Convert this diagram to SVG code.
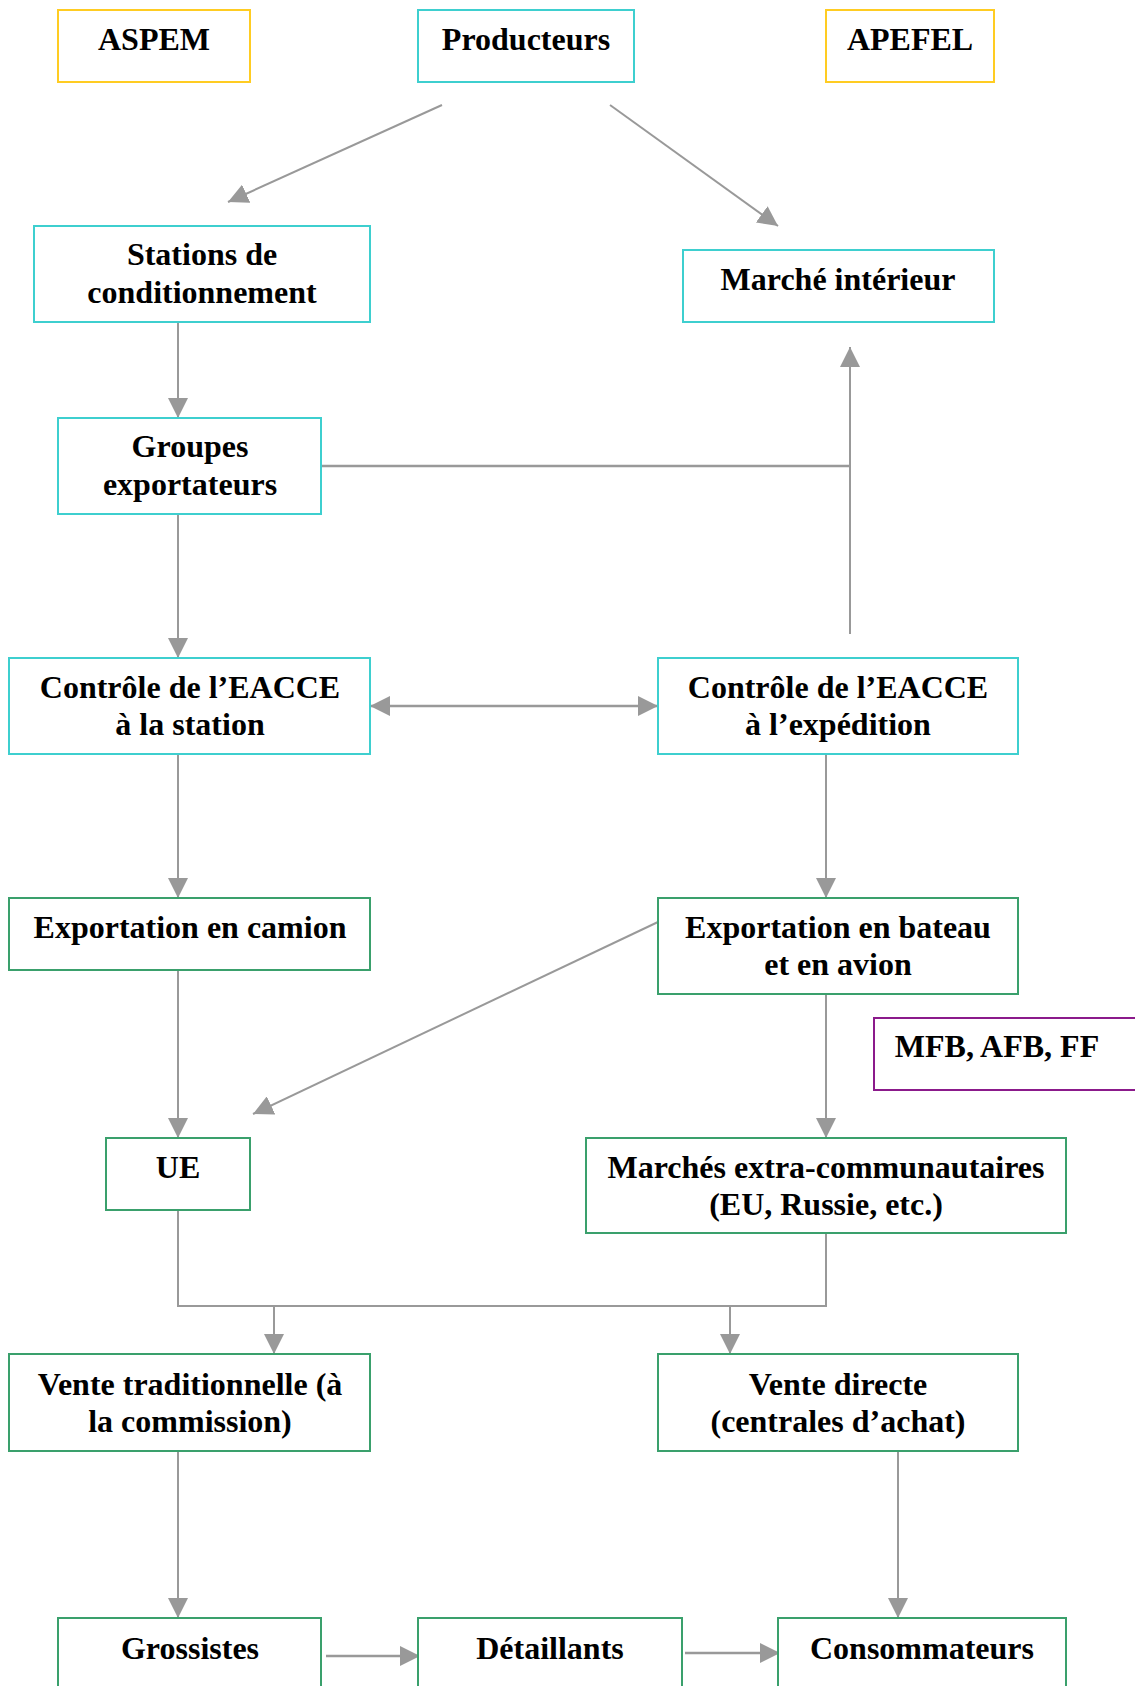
<svg xmlns="http://www.w3.org/2000/svg" width="1135" height="1686" viewBox="0 0 1135 1686">
<style>
.bx{fill:#fff;stroke-width:2}
.cy{stroke:#3ecfcf}
.ye{stroke:#ffcc22}
.gr{stroke:#3aa06c}
.pu{stroke:#8b1a8b}
text{font-family:"Liberation Serif","Times New Roman",serif;font-weight:bold;font-size:32px;fill:#000;text-anchor:middle}
.c{fill:none;stroke:#999;stroke-width:2}
.t{stroke-width:2.4}
</style>
<defs>
<marker id="ah" markerUnits="userSpaceOnUse" markerWidth="20" markerHeight="20" refX="20" refY="10" orient="auto-start-reverse" viewBox="0 0 20 20">
<path d="M0,0 L20,10 L0,20 z" fill="#999"/>
</marker>
</defs>
<rect width="1135" height="1686" fill="#fff"/>
<g id="connectors">
<line class="c" x1="442" y1="105" x2="228" y2="202" marker-end="url(#ah)"/>
<line class="c" x1="610" y1="105" x2="778" y2="226" marker-end="url(#ah)"/>
<line class="c" x1="178" y1="322" x2="178" y2="418" marker-end="url(#ah)"/>
<line class="c t" x1="321" y1="466" x2="850" y2="466"/>
<line class="c" x1="850" y1="634" x2="850" y2="347" marker-end="url(#ah)"/>
<line class="c" x1="178" y1="514" x2="178" y2="658" marker-end="url(#ah)"/>
<line class="c t" x1="370" y1="706" x2="658" y2="706" marker-start="url(#ah)" marker-end="url(#ah)"/>
<line class="c" x1="178" y1="754" x2="178" y2="898" marker-end="url(#ah)"/>
<line class="c" x1="826" y1="754" x2="826" y2="898" marker-end="url(#ah)"/>
<line class="c" x1="658" y1="922" x2="253" y2="1114" marker-end="url(#ah)"/>
<line class="c" x1="178" y1="970" x2="178" y2="1138" marker-end="url(#ah)"/>
<line class="c" x1="826" y1="994" x2="826" y2="1138" marker-end="url(#ah)"/>
<polyline class="c" points="178,1210 178,1306 826,1306 826,1233"/>
<line class="c" x1="274" y1="1306" x2="274" y2="1354" marker-end="url(#ah)"/>
<line class="c" x1="730" y1="1306" x2="730" y2="1354" marker-end="url(#ah)"/>
<line class="c" x1="178" y1="1451" x2="178" y2="1618" marker-end="url(#ah)"/>
<line class="c" x1="898" y1="1451" x2="898" y2="1618" marker-end="url(#ah)"/>
<line class="c t" x1="326" y1="1656" x2="420" y2="1656" marker-end="url(#ah)"/>
<line class="c t" x1="685" y1="1653" x2="780" y2="1653" marker-end="url(#ah)"/>
</g>
<g id="aspem"><rect class="bx ye" x="58" y="10" width="192" height="72"/><text x="154" y="50">ASPEM</text></g>
<g id="producteurs"><rect class="bx cy" x="418" y="10" width="216" height="72"/><text x="526" y="50">Producteurs</text></g>
<g id="apefel"><rect class="bx ye" x="826" y="10" width="168" height="72"/><text x="910" y="50">APEFEL</text></g>
<g id="stations"><rect class="bx cy" x="34" y="226" width="336" height="96"/><text x="202" y="265">Stations de</text><text x="202" y="303">conditionnement</text></g>
<g id="marche-interieur"><rect class="bx cy" x="683" y="250" width="311" height="72"/><text x="838" y="290">Marché intérieur</text></g>
<g id="groupes"><rect class="bx cy" x="58" y="418" width="263" height="96"/><text x="190" y="457">Groupes</text><text x="190" y="495">exportateurs</text></g>
<g id="controle-station"><rect class="bx cy" x="9" y="658" width="361" height="96"/><text x="190" y="698">Contrôle de l’EACCE</text><text x="190" y="735">à la station</text></g>
<g id="controle-expedition"><rect class="bx cy" x="658" y="658" width="360" height="96"/><text x="838" y="698">Contrôle de l’EACCE</text><text x="838" y="735">à l’expédition</text></g>
<g id="export-camion"><rect class="bx gr" x="9" y="898" width="361" height="72"/><text x="190" y="938">Exportation en camion</text></g>
<g id="export-bateau"><rect class="bx gr" x="658" y="898" width="360" height="96"/><text x="838" y="938">Exportation en bateau</text><text x="838" y="975">et en avion</text></g>
<g id="mfb"><rect class="bx pu" x="874" y="1018" width="270" height="72"/><text x="997" y="1057">MFB, AFB, FF</text></g>
<g id="ue"><rect class="bx gr" x="106" y="1138" width="144" height="72"/><text x="178" y="1178">UE</text></g>
<g id="marches-extra"><rect class="bx gr" x="586" y="1138" width="480" height="95"/><text x="826" y="1178">Marchés extra-communautaires</text><text x="826" y="1215">(EU, Russie, etc.)</text></g>
<g id="vente-traditionnelle"><rect class="bx gr" x="9" y="1354" width="361" height="97"/><text x="190" y="1395">Vente traditionnelle (à</text><text x="190" y="1432">la commission)</text></g>
<g id="vente-directe"><rect class="bx gr" x="658" y="1354" width="360" height="97"/><text x="838" y="1395">Vente directe</text><text x="838" y="1432">(centrales d’achat)</text></g>
<g id="grossistes"><rect class="bx gr" x="58" y="1618" width="263" height="90"/><text x="190" y="1659">Grossistes</text></g>
<g id="detaillants"><rect class="bx gr" x="418" y="1618" width="264" height="90"/><text x="550" y="1659">Détaillants</text></g>
<g id="consommateurs"><rect class="bx gr" x="778" y="1618" width="288" height="90"/><text x="922" y="1659">Consommateurs</text></g>
</svg>
